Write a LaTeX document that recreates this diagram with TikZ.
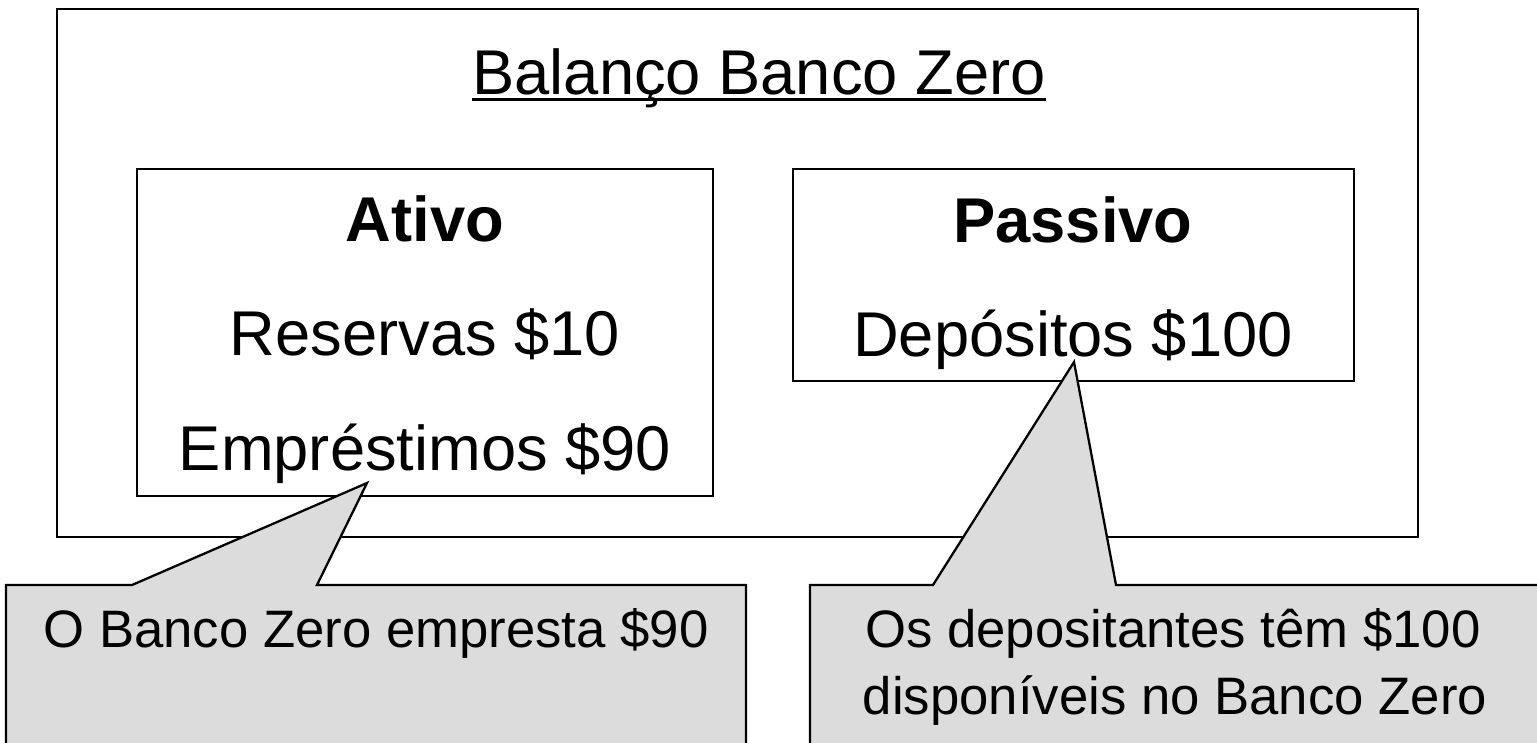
\documentclass[tikz,border=0pt]{standalone}
\usepackage{fontspec}
\setmainfont{Liberation Sans}
\usepackage{tikz}

\definecolor{calloutgray}{HTML}{DCDCDC}

\begin{document}
\begin{tikzpicture}[x=0.02cm,y=-0.02cm]
            \tikzstyle{every node}+=[inner sep=0pt, anchor=base]
            \tikzstyle{big}=[font=\fontsize{36}{40}\selectfont]
            \tikzstyle{small}=[font=\fontsize{30}{35}\selectfont]
            \tikzstyle{frame}=[draw=black, line width=1.3pt]
            \tikzstyle{callout}=[draw=black, fill=calloutgray, line width=1.3pt]
            \useasboundingbox (0,0) rectangle (1537,743);
            \clip (0,0) rectangle (1537,743);
            % balance sheet
            \draw [frame] (57,9) rectangle (1418,537);
            \node [big] (title) at (759,95) {Balanço Banco Zero};
            \draw [line width=1.7pt] ([yshift=-0.09cm]title.base west) -- ([yshift=-0.09cm]title.base east);
            \draw [frame] (137,169) rectangle (713,496);
            \node [big] (ativo) at (425,241) {\bfseries Ativo};
            \node [big] (reservas) at (425,355) {Reservas \$10};
            \node [big] (emprestimos) at (425,470) {Empréstimos \$90};
            \draw [frame] (793,169) rectangle (1354,381);
            \node [big] (passivo) at (1073,242) {\bfseries Passivo};
            \node [big] (depositos) at (1073,356) {Depósitos \$100};
            % callouts
            \coordinate (lefttip) at (367,483);
            \coordinate (righttip) at (1074,362);
            \filldraw [callout] (6,800) -- (6,585) -- (132,585) -- (lefttip) -- (317,585) -- (746,585) -- (746,800) -- cycle;
            \node [small] (empresta) at (376,647) {O Banco Zero empresta \$90};
            \filldraw [callout] (810,800) -- (810,585) -- (933,585) -- (righttip) -- (1116,585) -- (1560,585) -- (1560,800) -- cycle;
            \node [small] (depositantes) at (1173,647) {Os depositantes têm \$100};
            \node [small] (disponiveis) at (1175,714) {disponíveis no Banco Zero};
        \end{tikzpicture}
\end{document}
